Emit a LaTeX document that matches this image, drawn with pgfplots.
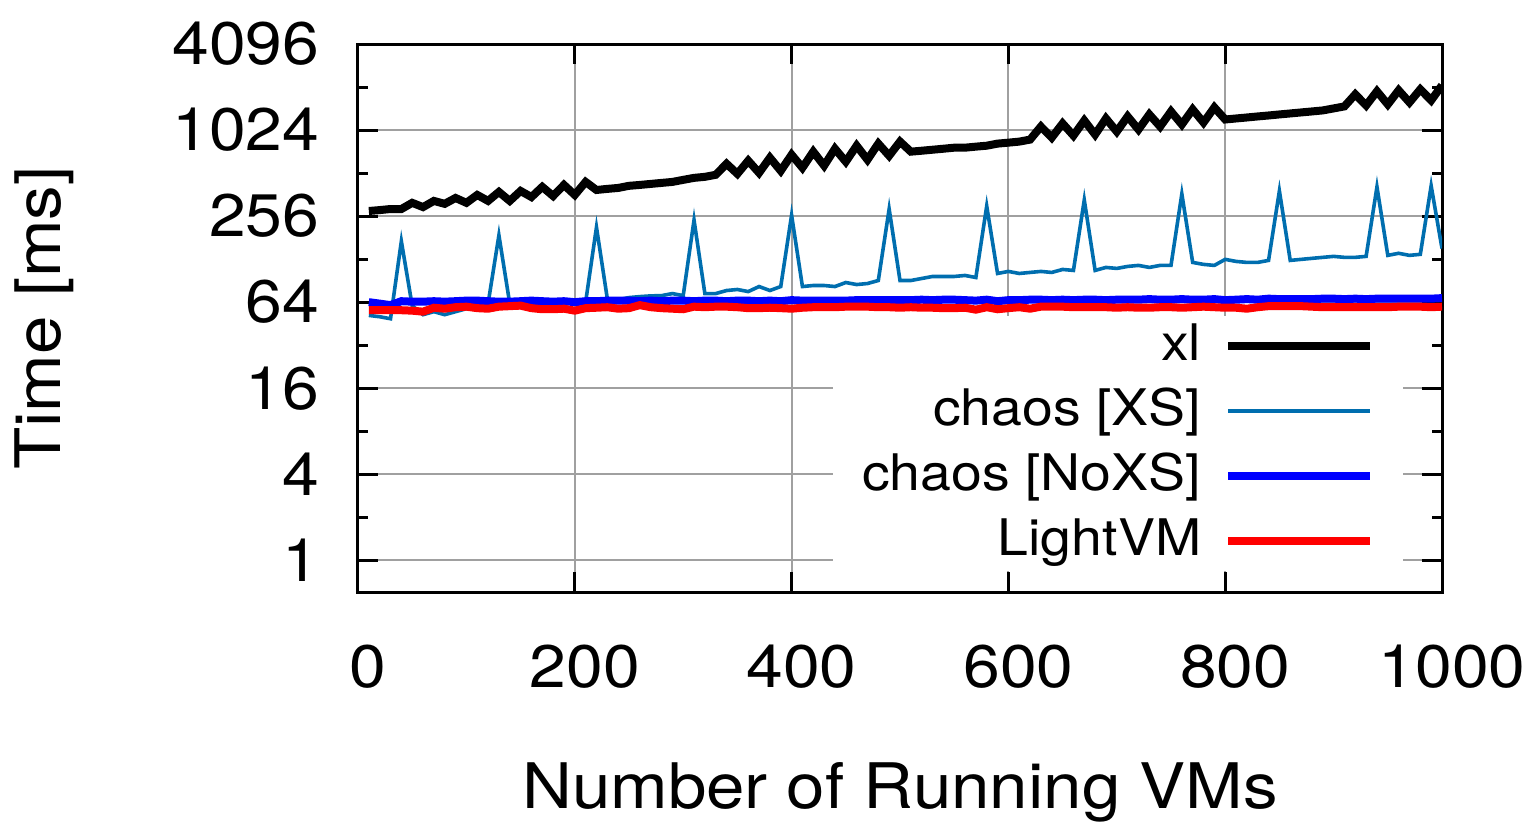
\documentclass[border=0pt]{standalone}
\usepackage{fontspec}
\setmainfont[FakeStretch=1.1]{TeX Gyre Heros}
\usepackage{pgfplots}
\usepackage{pgfplotstable}
\pgfplotsset{compat=1.18}

\definecolor{xscol}{RGB}{0,110,175}
\definecolor{gridgray}{RGB}{160,160,160}

% columns: VMs, xl, chaos [XS], chaos [NoXS], LightVM  (ms)
\pgfplotstableread{
x    xl    xs    noxs  light
10   278   51.7  64.0  56.2
20   282   50.6  62.5  56.2
30   287   49.0  61.0  56.2
40   287   170.7 65.0  56.2
50   317   60.5  64.5  55.8
60   296   52.3  64.5  54.9
70   327   54.9  65.0  58.5
80   312   52.3  64.5  57.6
90   343   54.9  65.0  59.0
100  317   57.6  65.6  59.5
110  360   59.5  65.6  58.1
120  327   62.5  65.0  57.6
130  378   188   64.5  59.5
140  327   62.5  64.5  60.0
150  384   63.0  65.0  60.5
160  348   63.0  65.6  58.1
170  410   63.5  65.0  57.1
180  354   63.5  64.5  57.1
190  423   63.0  65.0  57.6
200  360   63.0  64.0  55.8
210  444   64.0  65.0  58.1
220  390   214   65.0  58.5
230  397   67.7  65.6  59.0
240  403   66.6  65.6  57.6
250  417   68.9  65.6  58.1
260  423   70.0  65.0  61.0
270  430   70.8  65.6  59.0
280  437   71.1  65.0  58.1
290  444   73.5  65.6  57.6
300  459   71.1  65.6  57.1
310  474   240   65.0  59.5
320  482   73.5  65.6  59.0
330  498   73.5  65.6  59.5
340  595   77.2  65.0  59.5
350  506   78.5  65.6  59.0
360  625   75.9  65.6  58.1
370  514   82.3  65.0  58.1
380  656   77.2  65.6  58.5
390  531   82.3  65.0  58.1
400  688   260   66.1  57.6
410  558   82.3  65.6  58.5
420  723   83.7  65.6  59.0
430  577   83.7  65.6  59.0
440  758   82.3  65.6  59.0
450  615   87.8  65.6  59.5
460  796   85.0  66.1  59.5
470  635   86.4  66.1  59.5
480  823   90.7  66.1  59.0
490  677   287   66.1  59.0
500  850   90.7  66.1  58.5
510  723   90.7  66.1  59.0
520  734   93.7  66.6  58.5
530  746   96.8  66.1  58.5
540  758   96.8  66.6  58.1
550  771   96.8  66.6  58.1
560  771   98.4  66.1  58.5
570  784   95.2  65.6  56.7
580  796   301   66.6  59.0
590  823   101.6 65.0  57.1
600  836   105   66.1  58.1
610  850   101.6 66.1  59.0
620  878   103.3 66.6  57.6
630  1083  105   66.6  59.5
640  907   103.3 66.1  59.5
650  1138  108.4 66.6  59.5
660  937   106.7 66.1  59.0
670  1194  332   66.6  59.0
680  952   106.7 66.6  59.0
690  1234  112   66.1  59.0
700  999   110.2 66.6  58.5
710  1275  113.8 66.6  59.0
720  1033  115.7 66.6  58.5
730  1317  112   67.2  58.5
740  1083  115.7 66.6  59.0
750  1382  115.7 66.6  59.0
760  1120  366   67.2  58.5
770  1428  121.4 66.6  59.0
780  1156  117.6 66.6  59.5
790  1475  115.7 67.2  59.0
800  1214  127.5 66.1  58.5
810  1234  123.4 66.6  58.5
820  1254  121.4 67.2  57.6
830  1275  121.4 66.6  59.0
840  1295  125.4 67.7  60.0
850  1317  384   67.2  60.0
860  1338  125.4 67.2  60.0
870  1360  127.5 67.2  60.0
880  1382  129.6 67.2  59.5
890  1405  131.7 67.7  59.0
900  1451  133.8 67.7  59.0
910  1499  131.7 67.2  59.0
920  1821  131.7 67.7  59.0
930  1523  133.8 67.2  59.0
940  1912  410   67.7  59.0
950  1548  136   67.7  59.0
960  1943  140.6 67.7  59.5
970  1599  136   67.7  59.5
980  1974  138.3 67.7  59.5
990  1652  417   67.7  59.0
1000 2107  152   68.3  59.5
}\vmdata

\pgfplotsset{
  legend image code/.code={\draw[#1,line cap=butt] (0pt,0pt) -- (35.5pt,0pt);},
}

\begin{document}
\begin{tikzpicture}
\begin{axis}[
  scale only axis,
  width=271pt, height=137pt,
  xmin=0, xmax=1000,
  ymode=log, log basis y=2,
  ymin=0.6, ymax=4096,
  xtick={0,200,400,600,800,1000},
  xticklabels={0,200,400,600,800,1000},
  ytick={1,4,16,64,256,1024,4096},
  yticklabels={1,4,16,64,256,1024,4096},
  minor tick num=0,
  extra y ticks={2,8,32,128,512,2048},
  extra y tick labels={},
  extra y tick style={grid=none, major tick length=2.5pt},
  /pgf/number format/assume math mode=true,
  tick align=inside,
  major tick length=5pt,
  every tick/.style={black, line width=0.75pt},
  axis line style={line width=0.75pt},
  grid=major,
  grid style={gridgray, line width=0.5pt},
  tick label style={font=\fontsize{15}{18}\selectfont, inner sep=0pt},
  yticklabel style={xshift=-9.5pt},
  xticklabel style={yshift=-13pt, xshift=2.5pt},
  xlabel={Number of Running VMs},
  ylabel={Time [ms]},
  label style={font=\fontsize{15.7}{19}\selectfont, inner sep=0pt},
  xlabel style={at={(axis description cs:0.5,0)}, anchor=north, yshift=-42.5pt},
  ylabel style={at={(axis description cs:-0.261,0.5)}, anchor=south},
  legend plot pos=right,
  legend cell align=right,
  legend style={
    at={(1,0)}, anchor=south east, xshift=-9.5pt, yshift=5pt,
    draw=none, fill=white,
    font=\fontsize{12.6}{15}\selectfont,
    inner xsep=7.25pt, inner ysep=0.5pt,
    nodes={inner sep=0pt, text height=10.5pt, text depth=3.5pt},
    row sep=2.25pt, column sep=5.75pt,
  },
]
\addplot[black, line width=2pt, line join=miter] table[x=x, y=xl] {\vmdata};
\addlegendentry{xl}
\addplot[xscol, line width=0.9pt, line join=miter] table[x=x, y=xs] {\vmdata};
\addlegendentry{chaos [XS]}
\addplot[blue, line width=2pt] table[x=x, y=noxs] {\vmdata};
\addlegendentry{chaos [NoXS]}
\addplot[red, line width=2pt] table[x=x, y=light] {\vmdata};
\addlegendentry{LightVM}
\end{axis}
\path ([xshift=-89.5pt,yshift=-58.5pt]current axis.south west)
  rectangle ([xshift=22.25pt,yshift=11pt]current axis.north east);
\end{tikzpicture}
\end{document}
